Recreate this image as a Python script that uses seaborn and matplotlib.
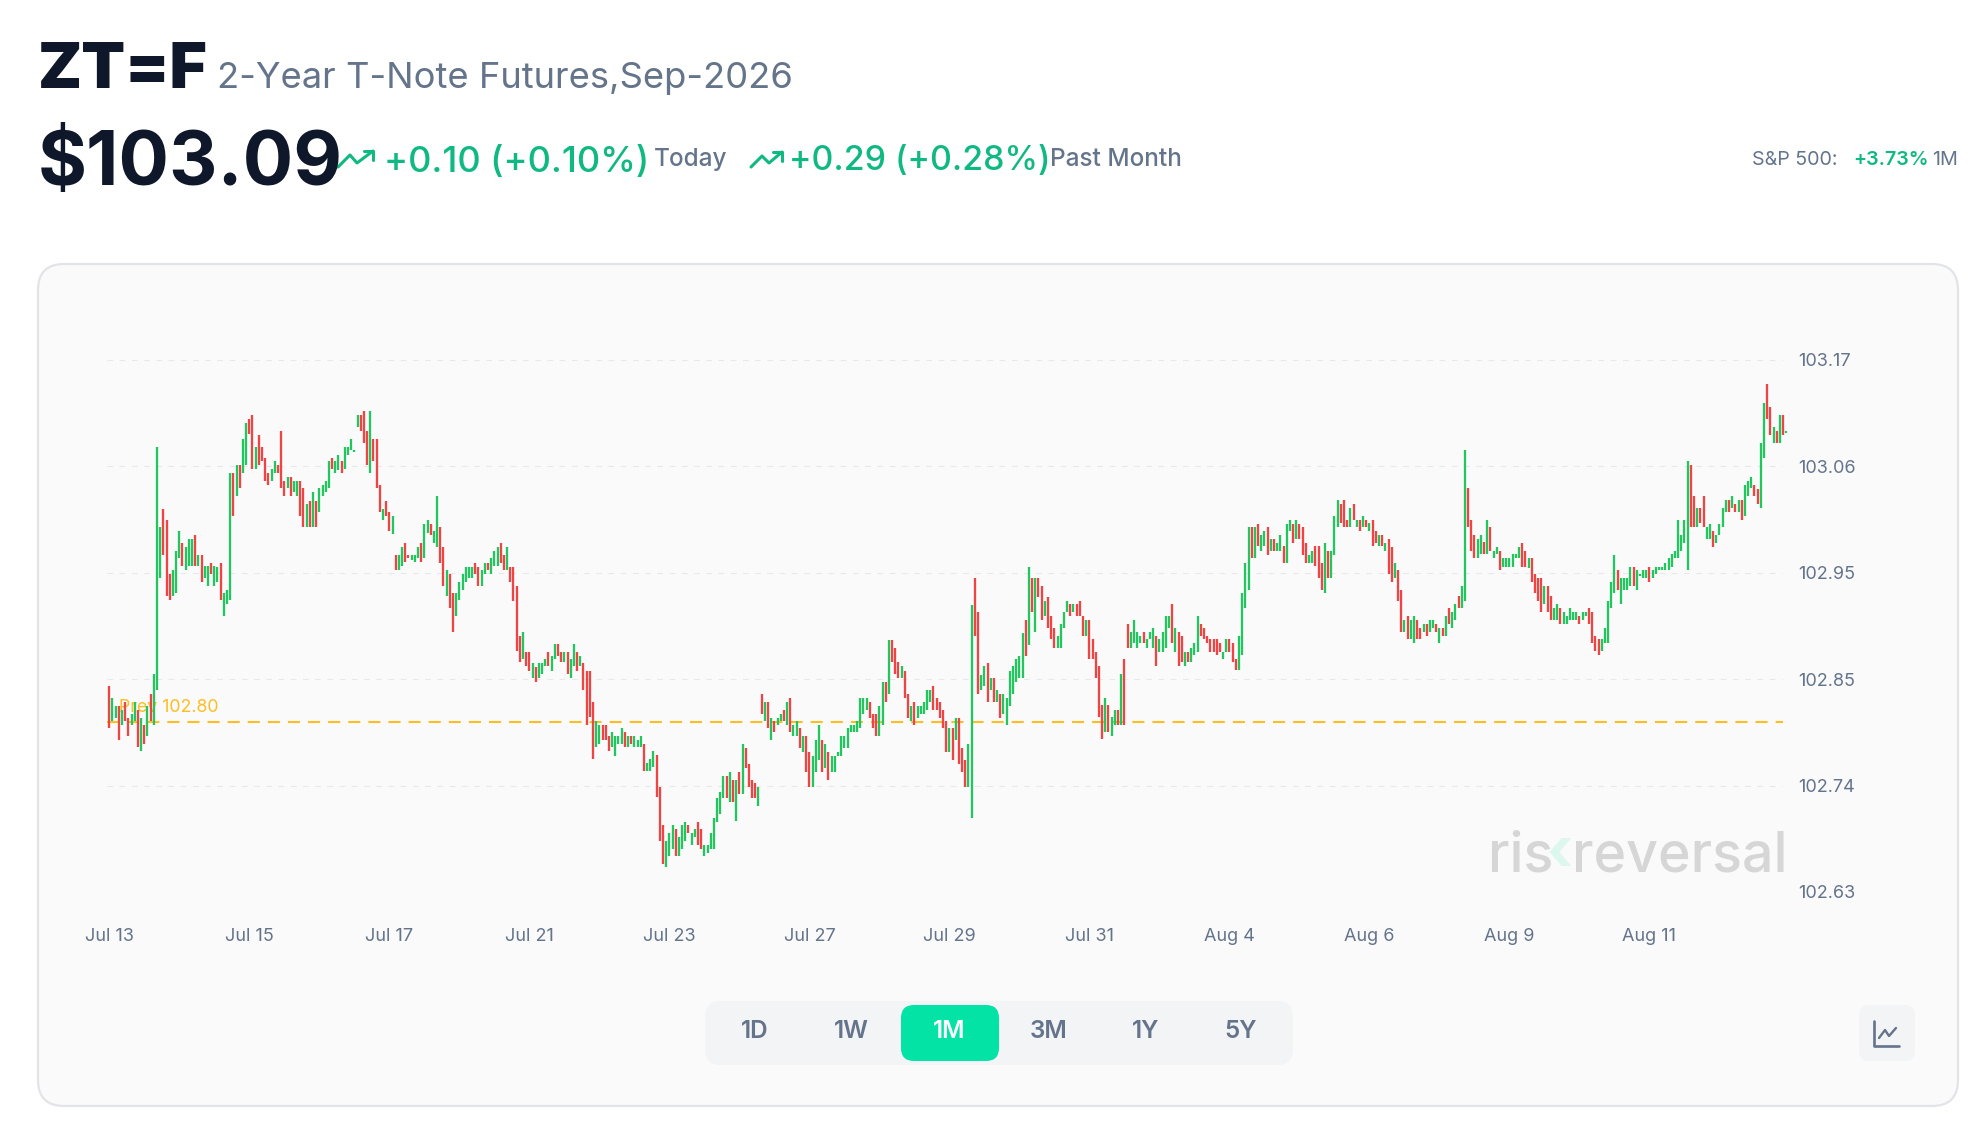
import matplotlib
matplotlib.use("Agg")
import matplotlib.pyplot as plt
from matplotlib.patches import FancyBboxPatch
import pandas as pd
import seaborn as sns

# one candle per entry, highs and lows
highs = [
102.839,102.827,102.819,102.819,102.815,102.823,102.807,102.811,102.823,102.815,
102.807,102.800,102.819,102.831,102.851,103.082,103.000,103.019,103.008,102.953,
102.957,102.976,102.996,102.984,102.980,102.988,102.988,102.992,102.972,102.972,
102.961,102.961,102.964,102.961,102.960,102.964,102.933,102.937,103.055,103.055,
103.063,103.063,103.090,103.106,103.110,103.114,103.082,103.094,103.082,103.071,
103.055,103.059,103.067,103.063,103.098,103.047,103.051,103.051,103.047,103.047,
103.047,103.040,103.024,103.027,103.036,103.027,103.040,103.043,103.047,103.067,
103.071,103.067,103.074,103.067,103.082,103.082,103.090,103.079,103.114,103.114,
103.118,103.098,103.118,103.090,103.090,103.043,103.019,103.027,103.016,103.012,
102.972,102.972,102.980,102.984,102.972,102.972,102.972,102.980,102.984,103.004,
103.008,103.004,102.996,103.032,103.000,102.980,102.957,102.953,102.933,102.933,
102.945,102.953,102.960,102.960,102.960,102.964,102.960,102.957,102.964,102.964,
102.969,102.976,102.980,102.984,102.972,102.980,102.960,102.960,102.941,102.890,
102.894,102.874,102.874,102.862,102.858,102.862,102.862,102.866,102.874,102.870,
102.882,102.882,102.874,102.874,102.874,102.866,102.882,102.874,102.870,102.862,
102.854,102.854,102.823,102.804,102.800,102.800,102.800,102.788,102.792,102.788,
102.788,102.796,102.792,102.788,102.788,102.788,102.784,102.788,102.780,102.761,
102.765,102.773,102.769,102.737,102.698,102.682,102.690,102.698,102.694,102.686,
102.698,102.701,102.698,102.690,102.694,102.701,102.694,102.678,102.678,102.690,
102.705,102.725,102.732,102.748,102.748,102.752,102.744,102.744,102.752,102.780,
102.776,102.760,102.744,102.741,102.737,102.831,102.823,102.823,102.807,102.804,
102.807,102.811,102.815,102.823,102.827,102.800,102.804,102.796,102.788,102.788,
102.772,102.768,102.784,102.800,102.784,102.780,102.772,102.768,102.768,102.772,
102.788,102.788,102.796,102.800,102.800,102.804,102.827,102.827,102.827,102.823,
102.811,102.811,102.819,102.843,102.843,102.886,102.886,102.878,102.863,102.859,
102.854,102.831,102.819,102.823,102.819,102.819,102.823,102.835,102.835,102.839,
102.827,102.823,102.815,102.804,102.796,102.796,102.807,102.807,102.776,102.764,
102.780,102.921,102.949,102.914,102.850,102.859,102.862,102.847,102.847,102.835,
102.831,102.831,102.827,102.854,102.859,102.866,102.870,102.893,102.906,102.960,
102.949,102.949,102.949,102.941,102.925,102.929,102.910,102.898,102.890,102.902,
102.914,102.925,102.922,102.922,102.922,102.925,102.910,102.906,102.906,102.887,
102.874,102.859,102.820,102.827,102.820,102.808,102.815,102.815,102.851,102.866,
102.902,102.894,102.906,102.894,102.890,102.894,102.887,102.894,102.898,102.890,
102.887,102.894,102.910,102.910,102.922,102.898,102.894,102.890,102.874,102.874,
102.878,102.883,102.910,102.902,102.898,102.890,102.887,102.887,102.887,102.883,
102.874,102.887,102.887,102.883,102.867,102.890,102.933,102.964,103.000,103.000,
103.000,103.004,102.992,102.996,103.000,102.988,102.988,102.984,102.992,102.981,
103.004,103.008,103.004,103.008,103.004,103.000,102.984,102.972,102.976,102.981,
102.981,102.964,102.984,102.976,102.976,103.012,103.028,103.024,103.028,103.008,
103.020,103.024,103.008,103.008,103.012,103.008,103.005,103.008,102.996,102.992,
102.992,102.984,102.988,102.980,102.964,102.957,102.937,102.906,102.910,102.906,
102.910,102.906,102.898,102.902,102.902,102.906,102.906,102.902,102.898,102.898,
102.910,102.918,102.914,102.922,102.930,102.941,103.079,103.040,103.008,102.992,
102.988,102.992,102.985,103.008,103.000,102.976,102.980,102.976,102.969,102.969,
102.969,102.973,102.973,102.980,102.984,102.976,102.969,102.969,102.953,102.949,
102.949,102.941,102.941,102.930,102.918,102.922,102.918,102.914,102.910,102.918,
102.914,102.914,102.910,102.914,102.914,102.918,102.914,102.890,102.887,102.887,
102.898,102.925,102.945,102.972,102.957,102.949,102.949,102.949,102.960,102.960,
102.957,102.953,102.957,102.957,102.960,102.957,102.960,102.960,102.960,102.964,
102.969,102.973,102.976,103.008,102.992,103.008,103.067,103.063,103.032,103.020,
103.020,103.032,103.000,103.004,102.996,102.992,103.004,103.020,103.028,103.028,
103.032,103.024,103.028,103.028,103.043,103.047,103.051,103.043,103.039,103.086,
103.126,103.146,103.122,103.102,103.098,103.114,103.114,103.098,
]
lows = [
102.796,102.804,102.807,102.784,102.800,102.804,102.788,102.800,102.804,102.777,
102.773,102.780,102.788,102.804,102.800,102.835,102.949,102.972,102.930,102.926,
102.930,102.934,102.969,102.961,102.957,102.961,102.961,102.961,102.961,102.945,
102.949,102.941,102.953,102.941,102.945,102.926,102.910,102.922,102.926,103.012,
103.032,103.040,103.055,103.063,103.095,103.059,103.059,103.063,103.067,103.047,
103.043,103.047,103.055,103.055,103.040,103.032,103.040,103.032,103.036,103.032,
103.012,103.000,103.000,103.000,103.000,103.000,103.016,103.032,103.036,103.040,
103.059,103.055,103.058,103.055,103.059,103.074,103.079,103.077,103.102,103.098,
103.086,103.063,103.055,103.067,103.040,103.016,103.008,103.012,102.996,102.993,
102.957,102.957,102.961,102.965,102.969,102.967,102.965,102.969,102.965,102.969,
102.994,102.992,102.984,102.980,102.964,102.941,102.930,102.918,102.894,102.910,
102.926,102.937,102.945,102.949,102.949,102.953,102.941,102.941,102.953,102.957,
102.953,102.961,102.961,102.964,102.957,102.957,102.945,102.925,102.875,102.863,
102.866,102.859,102.854,102.847,102.843,102.847,102.851,102.859,102.859,102.854,
102.866,102.870,102.863,102.863,102.851,102.847,102.859,102.854,102.859,102.835,
102.800,102.808,102.765,102.777,102.780,102.784,102.784,102.773,102.777,102.768,
102.780,102.780,102.777,102.777,102.780,102.777,102.777,102.777,102.753,102.753,
102.753,102.757,102.726,102.682,102.658,102.655,102.667,102.674,102.667,102.667,
102.674,102.682,102.690,102.678,102.686,102.678,102.674,102.667,102.670,102.674,
102.674,102.701,102.709,102.725,102.725,102.721,102.721,102.702,102.729,102.729,
102.756,102.737,102.725,102.725,102.717,102.811,102.804,102.796,102.784,102.792,
102.800,102.804,102.804,102.800,102.792,102.788,102.788,102.776,102.772,102.752,
102.737,102.737,102.752,102.764,102.752,102.756,102.744,102.752,102.752,102.768,
102.768,102.776,102.776,102.792,102.792,102.792,102.796,102.811,102.815,102.807,
102.796,102.788,102.788,102.800,102.823,102.831,102.863,102.851,102.847,102.847,
102.827,102.807,102.804,102.800,102.807,102.811,102.811,102.815,102.823,102.815,
102.815,102.807,102.796,102.772,102.772,102.764,102.784,102.760,102.752,102.737,
102.737,102.705,102.890,102.831,102.835,102.839,102.823,102.835,102.823,102.823,
102.807,102.811,102.800,102.819,102.831,102.843,102.847,102.847,102.870,102.881,
102.914,102.894,102.929,102.906,102.910,102.898,102.887,102.878,102.878,102.878,
102.898,102.914,102.910,102.914,102.910,102.910,102.890,102.890,102.867,102.867,
102.847,102.808,102.785,102.792,102.792,102.788,102.800,102.800,102.800,102.800,
102.878,102.878,102.883,102.878,102.883,102.883,102.878,102.887,102.878,102.859,
102.874,102.874,102.878,102.898,102.883,102.874,102.859,102.863,102.859,102.863,
102.863,102.871,102.874,102.890,102.887,102.883,102.874,102.874,102.871,102.874,
102.867,102.874,102.874,102.863,102.855,102.855,102.871,102.918,102.937,102.969,
102.969,102.981,102.976,102.981,102.972,102.976,102.976,102.976,102.976,102.964,
102.964,102.996,102.984,102.988,102.988,102.972,102.964,102.964,102.964,102.961,
102.949,102.937,102.933,102.949,102.949,102.972,103.000,103.005,103.000,103.000,
103.000,103.008,103.000,102.996,103.000,103.000,102.996,102.981,102.984,102.981,
102.981,102.976,102.953,102.945,102.949,102.925,102.894,102.894,102.887,102.887,
102.883,102.887,102.887,102.894,102.890,102.894,102.898,102.894,102.883,102.890,
102.890,102.902,102.898,102.906,102.918,102.918,102.925,103.000,102.976,102.969,
102.969,102.973,102.973,102.973,102.976,102.969,102.973,102.957,102.960,102.960,
102.960,102.960,102.969,102.969,102.960,102.960,102.959,102.945,102.933,102.925,
102.914,102.922,102.914,102.906,102.906,102.906,102.902,102.902,102.902,102.906,
102.906,102.906,102.902,102.906,102.910,102.902,102.883,102.875,102.871,102.875,
102.883,102.883,102.918,102.933,102.937,102.922,102.937,102.937,102.941,102.941,
102.937,102.951,102.949,102.949,102.945,102.949,102.953,102.957,102.957,102.957,
102.957,102.960,102.969,102.969,102.976,102.984,102.957,103.000,103.000,103.000,
103.005,103.000,102.988,102.988,102.980,102.984,102.992,103.000,103.016,103.016,
103.020,103.016,103.016,103.008,103.012,103.032,103.040,103.032,103.024,103.020,
103.071,103.110,103.094,103.086,103.086,103.086,103.094,103.096,
]
# g = closed up, r = closed down
directions = (
"rggrgrrggr" "grgrgggrrr" "gggrgggrgr" "ggrggrgggr" "grggrrgrrr"
"rggrrrgrgg" "rrgrgrgggg" "rggrgggggr" "rrgrrrgrrg" "rggrrgggrg"
"grggrrgrrg" "gggggrrggr" "gggrrgrrrr" "grrgrgggrg" "grrgrggrgr"
"rrrggrrrgg" "ggrgrgggrg" "ggrrrgggrg" "ggrggrrggg" "ggggrgrgrg"
"rrrrgrgrgr" "ggrgrggrgr" "rgggrgrggg" "gggggggggr" "rrggrgrrrg"
"rrgrgggggr" "rrrrgrgrrr" "ggrrggrgrg" "rgggggggrg" "rgrrgrrrgg"
"ggrgrrrgrr" "rrrgrggrgr" "rggggrgggr" "ggggrgrrgr" "gggrrrrrrr"
"ggrrrggggr" "grggrgrggr" "ggrgrrrggr" "rrgrgggrrr" "grgrgrgrrg"
"rgrrgrrgrg" "grrgrggrgr" "grggrggrrr" "ggrgrggrgg" "ggggrrgrrr"
"rgrrggrggg" "ggrggrrrrg" "ggggrggggr" "ggggrggggg" "gggggggrrg"
"rrggrggggr" "grgrgggrrg" "grrgrgrg"
)

date_labels = ["Jul 13", "Jul 15", "Jul 17", "Jul 21", "Jul 23", "Jul 27",
               "Jul 29", "Jul 31", "Aug 4", "Aug 6", "Aug 9", "Aug 11"]
date_ticks = [0, 44, 88, 132, 176, 220, 264, 308, 352, 396, 440, 484]
price_ticks = [102.63, 102.738, 102.846, 102.954, 103.062, 103.17]
price_labels = ["102.63", "102.74", "102.85", "102.95", "103.06", "103.17"]
prev_close = 102.803
ranges = ["1D", "1W", "1M", "3M", "1Y", "5Y"]

DARK = "#0f172a"
SLATE = "#64748b"
GREEN = "#10b981"
WIDTH, HEIGHT = 1986, 1126

sns.set_theme(style="white")
plt.rcParams["font.family"] = ["Inter", "DejaVu Sans"]

fig = plt.figure(figsize=(WIDTH / 100, HEIGHT / 100), dpi=100, facecolor="white")

# page furniture lives on a full-figure axes in pixel units
page = fig.add_axes([0, 0, 1, 1], zorder=0)
page.set_xlim(0, WIDTH)
page.set_ylim(HEIGHT, 0)
page.axis("off")


def box(x0, y0, x1, y1, r, **kw):
    page.add_patch(FancyBboxPatch((x0 + r, y0 + r), x1 - x0 - 2 * r, y1 - y0 - 2 * r,
                                  boxstyle=f"round,pad={r},rounding_size={r}", **kw))


def label(x, y, s, size, color=SLATE, weight="normal", ha="left", va="baseline", **kw):
    return page.text(x, y, s, fontsize=size, color=color, fontweight=weight, ha=ha, va=va, **kw)


box(38, 264, 1958, 1106, 26, facecolor="#fafafa", edgecolor="#e3e4e8", linewidth=1.6)

label(38, 88, "ZT=F", 46, DARK, "black")
label(217, 88, "2-Year T-Note Futures,Sep-2026", 26.2)
label(38, 185, "$103.09", 54, DARK, "bold")

for xs, ys in [((338, 350, 357, 373), (167, 155, 163, 151)),
               ((751, 762, 769, 782), (167, 156, 163, 152))]:
    page.plot(xs, ys, color=GREEN, lw=2.2, solid_joinstyle="round")
    page.plot((xs[3] - 9, xs[3], xs[3]), (ys[3], ys[3], ys[3] + 9), color=GREEN, lw=2.2)

label(384, 172, "+0.10 (+0.10%)", 26, GREEN, "medium")
label(654, 166, "Today", 17.5, SLATE, "medium")
label(789, 170, "+0.29 (+0.28%)", 24.4, GREEN, "medium")
label(1050, 166, "Past Month", 17.5, SLATE, "medium")

label(1958, 165, "1M", 14.2, ha="right")
label(1929, 165, "+3.73%", 14.2, GREEN, "semibold", ha="right")
label(1838, 165, "S&P 500:", 14.2, ha="right")

# watermark
label(1488, 872, "ris", 40, "#d6d6d6", "medium")
label(1546, 870, "‹", 44, "#dcf7ee", "bold")
label(1572, 872, "reversal", 40, "#d6d6d6", "medium")

label(119, 712, "Prev 102.80", 12.8, "#fbbf24")

# range selector
box(705, 1001, 1293, 1065, 16, facecolor="#f3f4f6", edgecolor="none")
box(901, 1005, 999, 1061, 13, facecolor="#03e3a6", edgecolor="none")
for name, cx in zip(ranges, [755, 851, 949.5, 1049, 1146, 1241]):
    label(cx, 1032, name, 17.5, "white" if name == "1M" else SLATE, "semibold", ha="center", va="center")

box(1859, 1005, 1915, 1061, 10, facecolor="#f3f4f6", edgecolor="none")
page.plot((1874, 1874, 1899), (1021, 1046, 1046), color=SLATE, lw=1.9, solid_capstyle="round")
page.plot((1879, 1885, 1889, 1896), (1038, 1030, 1036, 1028), color=SLATE, lw=1.7)

# chart itself
candles = pd.DataFrame({"high": highs, "low": lows, "direction": list(directions)})
candles["idx"] = candles.index
long_df = candles.melt(id_vars=["idx", "direction"], value_vars=["high", "low"], value_name="price")

left, right, top, bottom = 107, 1783, 360, 892
ax = fig.add_axes([left / WIDTH, 1 - bottom / HEIGHT, (right - left) / WIDTH, (bottom - top) / HEIGHT], zorder=1)
ax.patch.set_alpha(0)

step = (1786.3 - 109.3) / (len(highs) - 1)
ax.set_xlim((left - 109.3) / step, (right - 109.3) / step)
ax.set_ylim(102.63, 103.17)

ax.axhline(prev_close, color="#fbbf24", lw=1.5, ls=(0, (5.8, 3.85)), zorder=1)
sns.lineplot(data=long_df, x="idx", y="price", hue="direction", units="idx", estimator=None,
             palette={"g": "#22c55e", "r": "#ef4444"}, linewidth=1.65, legend=False, ax=ax,
             solid_capstyle="butt", clip_on=False, zorder=2)

ax.set_xticks(date_ticks, date_labels)
ax.set_yticks(price_ticks, price_labels)
ax.yaxis.tick_right()
ax.tick_params(axis="x", length=0, pad=26, labelsize=13, labelcolor=SLATE)
ax.tick_params(axis="y", length=0, pad=11, labelsize=13, labelcolor=SLATE)
ax.grid(axis="y", color="#e8e8ec", lw=0.8, ls=(0, (5, 6)))
ax.set_axisbelow(True)
ax.set_xlabel("")
ax.set_ylabel("")
sns.despine(ax=ax, left=True, bottom=True, right=True, top=True)

fig.savefig("out.png", dpi=100, facecolor="white")
